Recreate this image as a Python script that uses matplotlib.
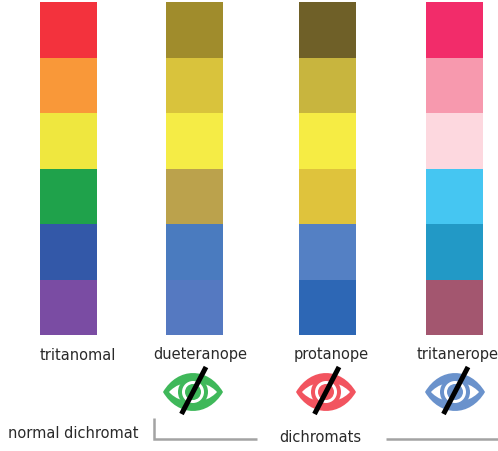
import matplotlib
matplotlib.use("Agg")
import matplotlib.pyplot as plt
from matplotlib.patches import PathPatch, Circle
from matplotlib.path import Path

W, H = 498, 451
vision_types = ["tritanomal", "dueteranope", "protanope", "tritanerope"]
tritanomal_colors = ["#F3323D", "#F99839", "#EFE73F", "#1FA24B", "#3358A8", "#7A4CA3"]
dueteranope_colors = ["#A08C2C", "#D9C33C", "#F5EC46", "#BBA24C", "#4A7BBF", "#5579C1"]
protanope_colors = ["#6F6028", "#C8B53E", "#F6EC44", "#DFC33C", "#5480C4", "#2D67B5"]
tritanerope_colors = ["#F22C6A", "#F799AE", "#FDD8DF", "#45C6F2", "#2299C6", "#A3566F"]
columns = [tritanomal_colors, dueteranope_colors, protanope_colors, tritanerope_colors]
eye_colors = ["#3FB85A", "#F2545F", "#6A92CC"]

col_left = [40, 166, 299, 426]
col_width = 56.5
row_top = 2
row_height = 55.5
label_x = [78, 200, 331, 458]
eye_x = [193, 326, 455]
eye_y = 392
FONT = ["DejaVu Sans"]
FS = 10.5

fig = plt.figure(figsize=(W / 100, H / 100), dpi=100)
ax = fig.add_axes([0, 0, 1, 1])
ax.set_xlim(0, W)
ax.set_ylim(H, 0)
ax.axis("off")

for left, cols, name, lx in zip(col_left, columns, vision_types, label_x):
    for i, c in enumerate(cols):
        ax.bar(left, row_height, width=col_width, bottom=row_top + i * row_height,
               align="edge", color=c, linewidth=0)
    ax.text(lx, 355, name, ha="center", va="center", fontsize=FS, family=FONT,
            color="#2A2A2A")


def lens(cx, cy, hw, hh, **kw):
    verts = [(cx - hw, cy),
             (cx - hw * .5, cy - hh * 1.33), (cx + hw * .5, cy - hh * 1.33), (cx + hw, cy),
             (cx + hw * .5, cy + hh * 1.33), (cx - hw * .5, cy + hh * 1.33), (cx - hw, cy),
             (cx - hw, cy)]
    codes = [Path.MOVETO, Path.CURVE4, Path.CURVE4, Path.CURVE4,
             Path.CURVE4, Path.CURVE4, Path.CURVE4, Path.CLOSEPOLY]
    ax.add_patch(PathPatch(Path(verts, codes), linewidth=0, **kw))


for cx, col in zip(eye_x, eye_colors):
    lens(cx, eye_y, 30, 19, facecolor=col, zorder=3)
    lens(cx, eye_y, 24, 10, facecolor="white", zorder=4)
    ax.add_patch(Circle((cx, eye_y), 15, facecolor=col, linewidth=0, zorder=5))
    ax.add_patch(Circle((cx, eye_y), 11, facecolor="white", linewidth=0, zorder=6))
    ax.add_patch(Circle((cx, eye_y), 8, facecolor=col, linewidth=0, zorder=7))
    ax.plot([cx + 13, cx - 11.5], [367, 414], color="black", lw=3.6,
            solid_capstyle="butt", zorder=8)

ax.plot([154, 154, 257], [418, 439, 439], color="#A3A3A3", lw=1.8,
        solid_joinstyle="miter", solid_capstyle="butt")
ax.plot([386, 498], [439, 439], color="#A3A3A3", lw=1.8, solid_capstyle="butt")
ax.text(73.5, 433, "normal dichromat", ha="center", va="center", fontsize=FS,
        family=FONT, color="#2A2A2A")
ax.text(320, 437, "dichromats", ha="center", va="center", fontsize=FS,
        family=FONT, color="#2A2A2A")

fig.savefig("out.png", dpi=100)
